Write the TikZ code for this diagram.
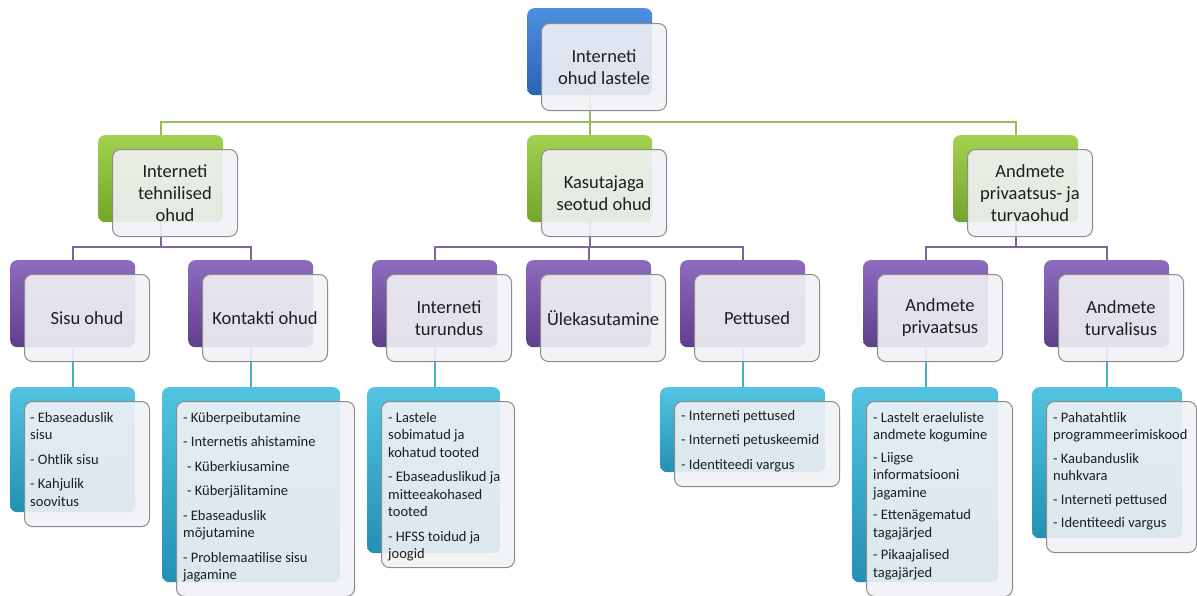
\documentclass[tikz,border=0pt]{standalone}
\usepackage{fontspec}
\setmainfont{Carlito}
\usepackage{xcolor}
\usetikzlibrary{positioning,backgrounds}

\definecolor{sinineY}{HTML}{4E8FE0}
\definecolor{sinineA}{HTML}{2C63B5}
\definecolor{rohY}{HTML}{A2D14F}
\definecolor{rohA}{HTML}{73A52A}
\definecolor{lillaY}{HTML}{8E6BBE}
\definecolor{lillaA}{HTML}{5F3F8C}
\definecolor{tsyY}{HTML}{52C4E2}
\definecolor{tsyA}{HTML}{2290B3}
\definecolor{esiTaust}{HTML}{F1F2F5}
\definecolor{esiJoon}{HTML}{8C8C8C}
\definecolor{rohJoon}{HTML}{9BBB59}
\definecolor{lillaJoon}{HTML}{8064A2}
\definecolor{tsyJoon}{HTML}{4BACC6}
\definecolor{tekst}{HTML}{1E1E1E}

\tikzset{
  taga/.style={rounded corners=7pt, inner sep=0pt, anchor=north west},
  sinine/.style={taga, top color=sinineY, bottom color=sinineA},
  roh/.style={taga, top color=rohY, bottom color=rohA},
  lilla/.style={taga, top color=lillaY, bottom color=lillaA},
  tsy/.style={taga, top color=tsyY, bottom color=tsyA},
  esi/.style={draw=esiJoon, line width=1pt, fill=esiTaust, fill opacity=0.9,
    text opacity=1, rounded corners=8pt, inner sep=2pt, align=center,
    text=tekst, font=\fontsize{18.5}{22}\selectfont},
  pealk/.style={minimum width=125pt, minimum height=87pt},
  loend/.style={align=left, inner sep=0pt, text=tekst,
    font=\fontsize{14.5}{17.5}\selectfont},
  rohjoon/.style={draw=rohJoon, line width=2pt},
  lillajoon/.style={draw=lillaJoon, line width=2pt},
  tsyjoon/.style={draw=tsyJoon, line width=2pt}
}

\begin{document}
\begin{tikzpicture}[x=1pt,y=-1pt]
\useasboundingbox (0,0) rectangle (1197,595);

% juur
\node[sinine, pealk] (juurT) at (527,8) {};
\node[esi, pealk, below right=15pt and 14pt of juurT.north west] (juur) {Interneti\\ohud lastele};

% esimene tase
\node[roh, pealk] (tehnT) at (98,135) {};
\node[esi, pealk, below right=14pt and 14pt of tehnT.north west] (tehn) {Interneti\\tehnilised\\ohud};
\node[roh, pealk] (kasutT) at (527,135) {};
\node[esi, pealk, below right=14pt and 14pt of kasutT.north west] (kasut) {Kasutajaga\\seotud ohud};
\node[roh, pealk] (andmT) at (953,135) {};
\node[esi, pealk, below right=14pt and 14pt of andmT.north west] (andm) {Andmete\\privaatsus- ja\\turvaohud};

% teine tase
\node[lilla, pealk] (sisuT) at (10,260) {};
\node[esi, pealk, below right=14pt and 14pt of sisuT.north west] (sisu) {Sisu ohud};
\node[lilla, pealk] (kontaktT) at (188,260) {};
\node[esi, pealk, below right=14pt and 14pt of kontaktT.north west] (kontakt) {Kontakti ohud};
\node[lilla, pealk] (turundT) at (372,260) {};
\node[esi, pealk, below right=14pt and 14pt of turundT.north west] (turund) {Interneti\\turundus};
\node[lilla, pealk] (ulekT) at (526,260) {};
\node[esi, pealk, below right=14pt and 14pt of ulekT.north west] (ulek) {Ülekasutamine};
\node[lilla, pealk] (pettT) at (680,260) {};
\node[esi, pealk, below right=14pt and 14pt of pettT.north west] (pett) {Pettused};
\node[lilla, pealk] (privT) at (863,260) {};
\node[esi, pealk, below right=14pt and 14pt of privT.north west] (priv) {Andmete\\privaatsus};
\node[lilla, pealk] (turvT) at (1044,260) {};
\node[esi, pealk, below right=14pt and 14pt of turvT.north west] (turv) {Andmete\\turvalisus};

% loendid
\node[tsy, minimum width=125pt, minimum height=125pt] (sisuLT) at (10,387) {};
\node[esi, minimum width=125pt, minimum height=125pt, below right=14pt and 14pt of sisuLT.north west] (sisuL) {};
\node[loend, below right=11pt and 6pt of sisuL.north west] (sisuTekst)
  {- Ebaseaduslik\\sisu\\[7pt]- Ohtlik sisu\\[7pt]- Kahjulik\\soovitus};

\node[tsy, minimum width=178pt, minimum height=195pt] (kontaktLT) at (162,387) {};
\node[esi, minimum width=178pt, minimum height=195pt, below right=14pt and 14pt of kontaktLT.north west] (kontaktL) {};
\node[loend, below right=11pt and 7pt of kontaktL.north west] (kontaktTekst)
  {- Küberpeibutamine\\[7pt]- Internetis ahistamine\\[7pt]\hspace{4pt}- Küberkiusamine\\[7pt]\hspace{4pt}- Küberjälitamine\\[7pt]- Ebaseaduslik\\mõjutamine\\[7pt]- Problemaatilise sisu\\jagamine};

\node[tsy, minimum width=133pt, minimum height=166pt] (turundLT) at (367,387) {};
\node[esi, minimum width=133pt, minimum height=166pt, below right=14pt and 14pt of turundLT.north west] (turundL) {};
\node[loend, below right=11pt and 7pt of turundL.north west] (turundTekst)
  {- Lastele\\sobimatud ja\\kohatud tooted\\[7pt]- Ebaseaduslikud ja\\mitteeakohased\\tooted\\[7pt]- HFSS toidud ja\\joogid};

\node[tsy, minimum width=165pt, minimum height=85pt] (pettLT) at (660,387) {};
\node[esi, minimum width=165pt, minimum height=85pt, below right=14pt and 14pt of pettLT.north west] (pettL) {};
\node[loend, below right=9pt and 7pt of pettL.north west] (pettTekst)
  {- Interneti pettused\\[7pt]- Interneti petuskeemid\\[7pt]- Identiteedi vargus};

\node[tsy, minimum width=146pt, minimum height=195pt] (privLT) at (852,387) {};
\node[esi, minimum width=146pt, minimum height=195pt, below right=14pt and 14pt of privLT.north west] (privL) {};
\node[loend, below right=11pt and 7pt of privL.north west] (privTekst)
  {- Lastelt eraeluliste\\andmete kogumine\\[5pt]- Liigse\\informatsiooni\\jagamine\\[5pt]- Ettenägematud\\tagajärjed\\[5pt]- Pikaajalised\\tagajärjed};

\node[tsy, minimum width=150pt, minimum height=151pt] (turvLT) at (1032,387) {};
\node[esi, minimum width=150pt, minimum height=151pt, below right=14pt and 14pt of turvLT.north west] (turvL) {};
\node[loend, below right=11pt and 7pt of turvL.north west] (turvTekst)
  {- Pahatahtlik\\programmeerimiskood\\[6pt]- Kaubanduslik\\nuhkvara\\[6pt]- Interneti pettused\\[6pt]- Identiteedi vargus};

% yhendused
\coordinate (siinR) at (0,122);
\coordinate (siinL) at (0,247);
\begin{scope}[on background layer]
\draw[rohjoon] (juurT.south) |- (tehnT.north |- siinR) -- (tehnT.north);
\draw[rohjoon] (juurT.south) |- (kasutT.north |- siinR) -- (kasutT.north);
\draw[rohjoon] (juurT.south) |- (andmT.north |- siinR) -- (andmT.north);

\draw[lillajoon] (tehnT.south) |- (sisuT.north |- siinL) -- (sisuT.north);
\draw[lillajoon] (tehnT.south) |- (kontaktT.north |- siinL) -- (kontaktT.north);
\draw[lillajoon] (kasutT.south) |- (turundT.north |- siinL) -- (turundT.north);
\draw[lillajoon] (kasutT.south) |- (ulekT.north |- siinL) -- (ulekT.north);
\draw[lillajoon] (kasutT.south) |- (pettT.north |- siinL) -- (pettT.north);
\draw[lillajoon] (andmT.south) |- (privT.north |- siinL) -- (privT.north);
\draw[lillajoon] (andmT.south) |- (turvT.north |- siinL) -- (turvT.north);

\draw[tsyjoon] (sisuT.south) -- (sisuT.south |- sisuLT.north);
\draw[tsyjoon] (kontaktT.south) -- (kontaktT.south |- kontaktLT.north);
\draw[tsyjoon] (turundT.south) -- (turundT.south |- turundLT.north);
\draw[tsyjoon] (pettT.south) -- (pettT.south |- pettLT.north);
\draw[tsyjoon] (privT.south) -- (privT.south |- privLT.north);
\draw[tsyjoon] (turvT.south) -- (turvT.south |- turvLT.north);
\end{scope}
\end{tikzpicture}
\end{document}
